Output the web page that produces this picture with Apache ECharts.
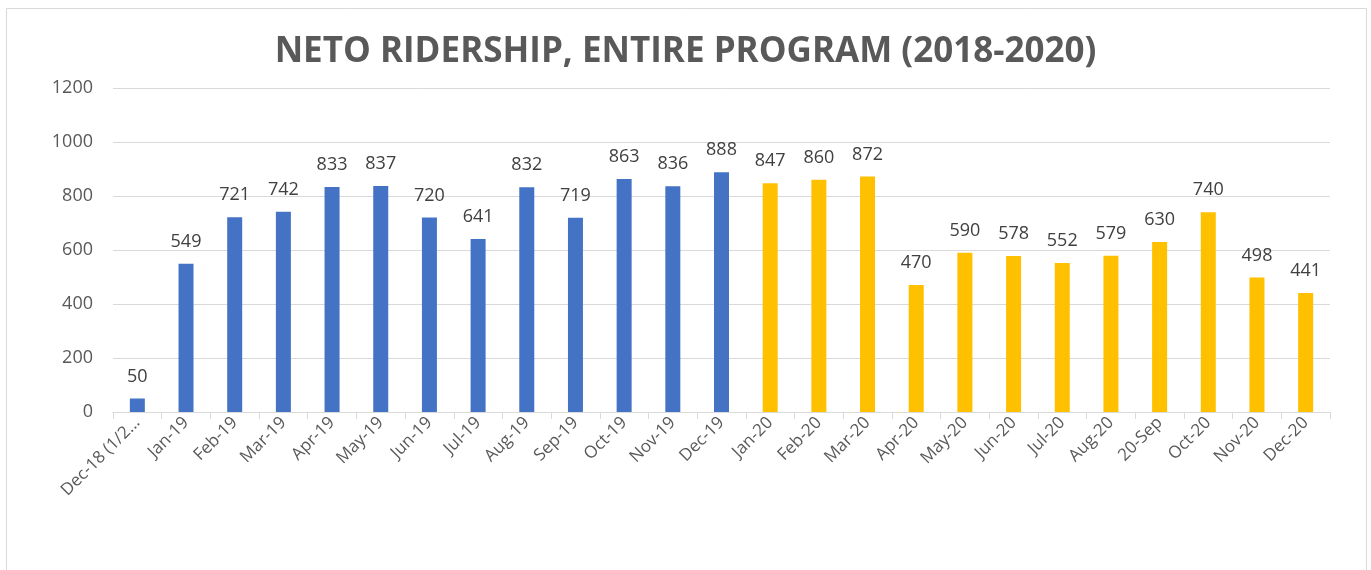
<!DOCTYPE html>
<html>
<head>
<meta charset="utf-8">
<script src="https://cdn.jsdelivr.net/npm/echarts@6/dist/echarts.min.js"></script>
<style>
  html, body { margin: 0; padding: 0; background: #fff; }
  #chart { width: 1371px; height: 570px; }
</style>
</head>
<body>
<div id="chart"></div>
<script>
// months shown on the axis
const months = [
  'Dec-18 (1/2...', 'Jan-19', 'Feb-19', 'Mar-19', 'Apr-19', 'May-19', 'Jun-19',
  'Jul-19', 'Aug-19', 'Sep-19', 'Oct-19', 'Nov-19', 'Dec-19',
  'Jan-20', 'Feb-20', 'Mar-20', 'Apr-20', 'May-20', 'Jun-20', 'Jul-20',
  'Aug-20', '20-Sep', 'Oct-20', 'Nov-20', 'Dec-20'
]
const riders = [
  50, 549, 721, 742, 833, 837, 720, 641, 832, 719, 863, 836, 888,
  847, 860, 872, 470, 590, 578, 552, 579, 630, 740, 498, 441
]
// first 13 months are the 2018-2019 period (blue), rest are 2020 (yellow)
const firstPeriodCount = 13
const yTicks = [0, 200, 400, 600, 800, 1000, 1200]

const chart = echarts.init(document.getElementById('chart'))

const option = {
  animation: false,
  backgroundColor: '#fff',
  title: {
    text: 'NETO RIDERSHIP, ENTIRE PROGRAM (2018-2020)',
    left: 'center',
    top: 30,
    textStyle: {
      fontFamily: 'Open Sans',
      fontSize: 35,
      fontWeight: 'bold',
      color: '#595959'
    }
  },
  graphic: [{
    type: 'rect',
    shape: { x: 6.5, y: 8.5, width: 1360, height: 600 },
    style: { fill: 'none', stroke: '#d9d9d9', lineWidth: 1 },
    silent: true
  }],
  grid: { left: 113, right: 41, top: 88, bottom: 158 },
  xAxis: {
    type: 'category',
    data: months,
    axisLine: { lineStyle: { color: '#d9d9d9', width: 1 } },
    axisTick: { show: true, length: 7, lineStyle: { color: '#d9d9d9' } },
    axisLabel: {
      rotate: 45,
      interval: 0,
      color: '#595959',
      fontFamily: 'Open Sans',
      fontSize: 17,
      margin: 8
    }
  },
  yAxis: {
    type: 'value',
    min: yTicks[0],
    max: yTicks[yTicks.length - 1],
    interval: 200,
    axisLine: { show: false },
    axisTick: { show: false },
    axisLabel: {
      color: '#595959',
      fontFamily: 'Open Sans',
      fontSize: 18,
      margin: 20,
      formatter: v => String(v)
    },
    splitLine: { lineStyle: { color: '#d9d9d9', width: 1 } }
  },
  series: [{
    type: 'bar',
    data: riders,
    barWidth: 15,
    itemStyle: {
      color: p => p.dataIndex < firstPeriodCount ? '#4472C4' : '#FFC000'
    },
    label: {
      show: true,
      position: 'top',
      distance: 13,
      color: '#404040',
      fontFamily: 'Open Sans',
      fontSize: 18
    }
  }]
}

chart.setOption(option)
</script>
</body>
</html>
